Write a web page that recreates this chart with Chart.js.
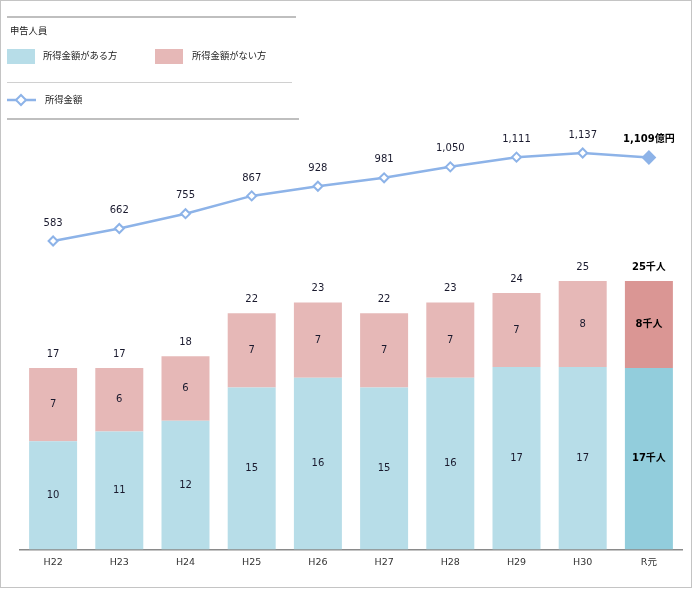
<!DOCTYPE html>
<html><head><meta charset="utf-8">
<script src="https://cdn.jsdelivr.net/npm/chart.js@4/dist/chart.umd.min.js"></script>
<style>
html,body{margin:0;padding:0;background:#fff;}
#wrap{position:relative;width:694px;height:589px;}
#frame{position:absolute;left:0;top:0;width:690px;height:586px;border:1px solid #c4c4c4;pointer-events:none;}
canvas{position:absolute;left:0;top:0;}
.lg{position:absolute;font-family:"Noto Sans CJK JP","DejaVu Sans",sans-serif;font-size:9.3px;color:#222;white-space:nowrap;line-height:1;}
.hr{position:absolute;background:#bfbfbf;}
.sw{position:absolute;width:28px;height:15px;}
</style></head>
<body><div id="wrap">
<canvas id="c" width="694" height="589"></canvas>
<div class="hr" style="left:7px;top:16px;width:289px;height:2px;"></div>
<div class="lg" style="left:10px;top:26px;">申告人員</div>
<div class="sw" style="left:7px;top:49px;background:#b7dde8;"></div>
<div class="lg" style="left:43px;top:51px;">所得金額がある方</div>
<div class="sw" style="left:155px;top:49px;background:#e6b8b7;"></div>
<div class="lg" style="left:192px;top:51px;">所得金額がない方</div>
<div class="hr" style="left:7px;top:82px;width:285px;height:1px;background:#d0d0d0;"></div>
<div class="lg" style="left:45px;top:95px;">所得金額</div>
<div class="hr" style="left:7px;top:118px;width:292px;height:2px;"></div>
<div id="frame"></div>
</div>
<script>
const categories = ["H22","H23","H24","H25","H26","H27","H28","H29","H30","R元"];
const withIncome = [10.1, 11.0, 12.0, 15.1, 16.0, 15.1, 16.0, 17.0, 17.0, 16.9];
const withoutIncome = [6.8, 5.9, 6.0, 6.9, 7.0, 6.9, 7.0, 6.9, 8.0, 8.1];
const incomeAmount = [583, 662, 755, 867, 928, 981, 1050, 1111, 1137, 1109];
const seriesNames = ["所得金額がある方", "所得金額がない方", "所得金額"];

const blue = "#b7dde8", blueLast = "#92cddc";
const pink = "#e6b8b7", pinkLast = "#da9694";
const lineCol = "#8db3e8";
const n = categories.length;
const blueCols = categories.map((c,i)=> i===n-1 ? blueLast : blue);
const pinkCols = categories.map((c,i)=> i===n-1 ? pinkLast : pink);
const numFont = '"DejaVu Sans", Verdana, sans-serif';
const jpFont = '"DejaVu Sans", "Noto Sans CJK JP", sans-serif';

const legendLine = {
  id:'legendLine',
  afterDraw(chart){
    const ctx = chart.ctx;
    ctx.save();
    ctx.strokeStyle = lineCol; ctx.lineWidth = 2.5;
    ctx.beginPath(); ctx.moveTo(7,100); ctx.lineTo(36,100); ctx.stroke();
    ctx.fillStyle = '#fff'; ctx.lineWidth = 2;
    ctx.beginPath(); ctx.moveTo(21,95); ctx.lineTo(26,100); ctx.lineTo(21,105); ctx.lineTo(16,100); ctx.closePath();
    ctx.fill(); ctx.stroke();
    ctx.restore();
  }
};

const labels = {
  id:'labels',
  afterDatasetsDraw(chart){
    const ctx = chart.ctx;
    ctx.save();
    ctx.textAlign = 'center'; ctx.textBaseline = 'middle';
    const m0 = chart.getDatasetMeta(0), m1 = chart.getDatasetMeta(1), m2 = chart.getDatasetMeta(2);
    for(let i=0;i<n;i++){
      const last = i===n-1;
      ctx.fillStyle = last ? '#000' : '#1a1a2e';
      ctx.font = (last ? 'bold ' : '') + '10px ' + (last? jpFont : numFont);
      const b0 = m0.data[i], b1 = m1.data[i];
      const v0 = Math.round(withIncome[i]), v1 = Math.round(withoutIncome[i]);
      const tot = Math.round(withIncome[i] + withoutIncome[i]);
      const suf = last ? '千人' : '';
      ctx.fillText(v0 + suf, b0.x, (b0.y + b0.base)/2);
      ctx.fillText(v1 + suf, b1.x, (b1.y + b1.base)/2);
      ctx.fillText(tot + suf, b1.x, b1.y - 14);
      const p = m2.data[i];
      ctx.fillText(incomeAmount[i].toLocaleString('en-US') + (last ? '億円' : ''), p.x, p.y - 18);
    }
    ctx.restore();
  }
};

new Chart(document.getElementById('c'), {
  data:{
    labels: categories,
    datasets:[
      {type:'bar', label:seriesNames[0], data:withIncome, backgroundColor:blueCols, yAxisID:'y', stack:'s', order:2,
       barPercentage:0.725, categoryPercentage:1},
      {type:'bar', label:seriesNames[1], data:withoutIncome, backgroundColor:pinkCols, yAxisID:'y', stack:'s', order:2,
       barPercentage:0.725, categoryPercentage:1},
      {type:'line', label:seriesNames[2], data:incomeAmount, yAxisID:'y2', order:1,
       borderColor:lineCol, borderWidth:2.5, pointStyle:'rectRot', pointRadius:categories.map((c,i)=>i===n-1?6:4.5),
       pointBackgroundColor:categories.map((c,i)=>i===n-1?lineCol:'#fff'), pointBorderColor:lineCol, pointBorderWidth:2,
       tension:0}
    ]
  },
  options:{
    responsive:false, animation:false,
    layout:{padding:{left:20,right:12,top:120,bottom:14}},
    plugins:{legend:{display:false}, tooltip:{enabled:false}},
    scales:{
      x:{stacked:true, grid:{display:false, drawTicks:false}, border:{display:true,color:'#8a8a8a',width:1.5},
         ticks:{padding:7, color:'#333', font:{family:jpFont,size:9.5}}},
      y:{stacked:true, display:false, min:0, max:40},
      y2:{display:false, min:-1360, max:1345, stacked:false}
    }
  },
  plugins:[labels, legendLine]
});
</script>
</body></html>
